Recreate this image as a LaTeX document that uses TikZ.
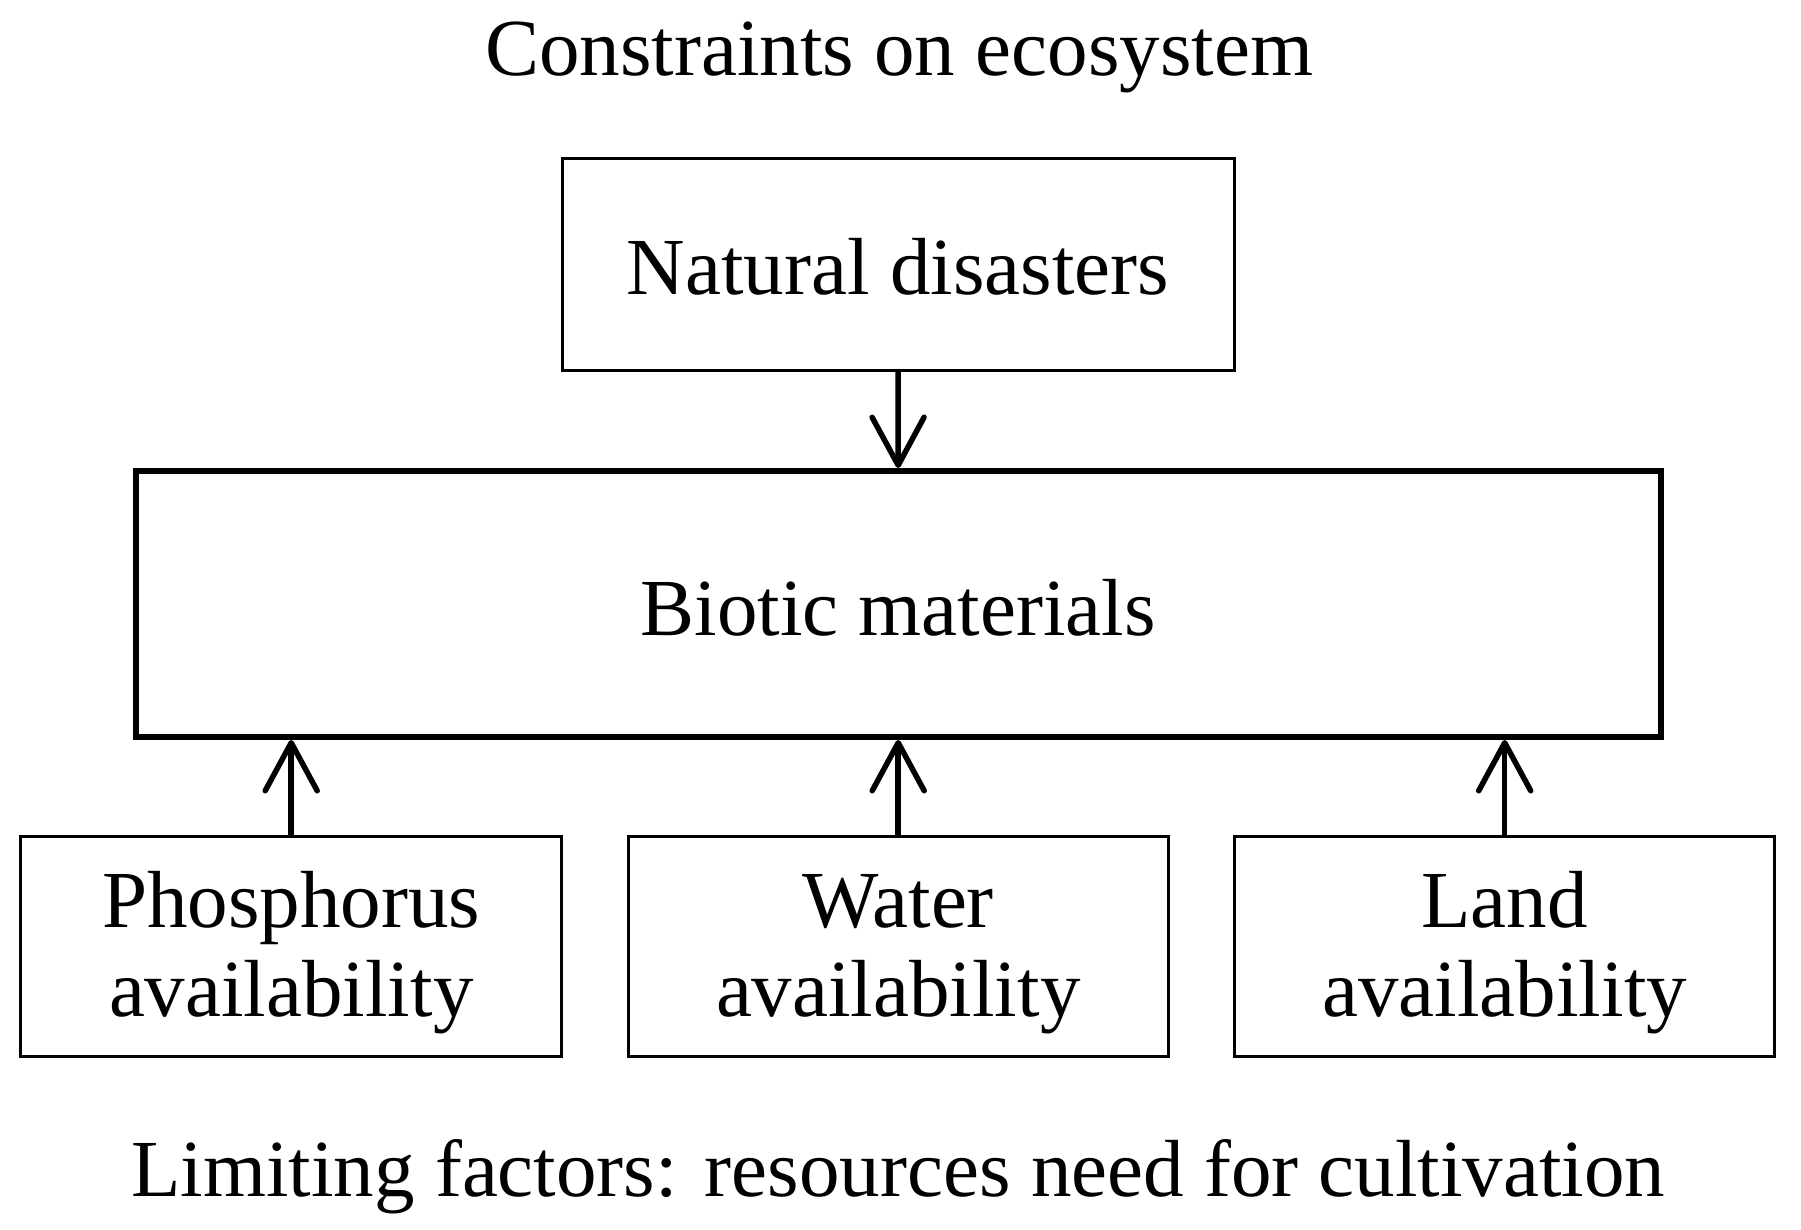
\documentclass[tikz,border=0pt]{standalone}
\usepackage{fontspec}
\setmainfont{Liberation Serif}
\usetikzlibrary{arrows.meta}
\begin{document}
\begin{tikzpicture}[x=1pt,y=-1pt,
  txt/.style={font=\fontsize{81}{89}\selectfont, inner sep=0pt, anchor=base},
  thinbox/.style={draw, line width=3pt, inner sep=0pt},
  thickbox/.style={draw, line width=6pt, inner sep=0pt},
  arr/.style={line width=5.5pt, line cap=round, -{Straight Barb[length=48pt,width=52pt,round]}}]
\useasboundingbox (0,0) rectangle (1801,1230);
% boxes
\node[thinbox, minimum width=672pt, minimum height=211pt] (nat) at (898,264.5) {};
\node[thickbox, minimum width=1525pt, minimum height=266pt] (bio) at (898.2,604) {};
\node[thinbox, minimum width=541pt, minimum height=220pt] (phos) at (291.2,946) {};
\node[thinbox, minimum width=540pt, minimum height=220pt] (water) at (898.2,946) {};
\node[thinbox, minimum width=540pt, minimum height=220pt] (land) at (1504.7,946) {};
% texts
\node[txt] (title) at (899,76) {Constraints on ecosystem};
\node[txt] (natT) at (nat.center |- 0,295) {Natural disasters};
\node[txt] (bioT) at (bio.center |- 0,635) {Biotic materials};
\node[txt] (phosT1) at (phos.center |- 0,927) {Phosphorus};
\node[txt] (phosT2) at (phos.center |- 0,1016) {availability};
\node[txt] (waterT1) at (water.center |- 0,927) {Water};
\node[txt] (waterT2) at (water.center |- 0,1016) {availability};
\node[txt] (landT1) at (land.center |- 0,927) {Land};
\node[txt] (landT2) at (land.center |- 0,1016) {availability};
\node[txt] (foot) at (898.2,1196) {Limiting factors: resources need for cultivation};
% arrows
\draw[arr] (nat.south) -- (bio.north);
\draw[arr] (phos.north) -- (phos.north |- bio.south);
\draw[arr] (water.north) -- (water.north |- bio.south);
\draw[arr] (land.north) -- (land.north |- bio.south);
\end{tikzpicture}
\end{document}
